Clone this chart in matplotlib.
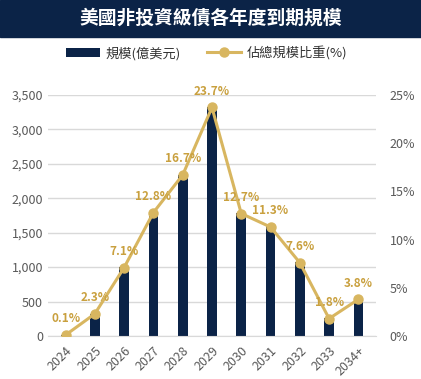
import matplotlib.pyplot as plt
from matplotlib.patches import Rectangle
from matplotlib.ticker import FuncFormatter

plt.rcParams['font.family'] = ['Noto Sans CJK TC', 'DejaVu Sans']

### data
years = ['2024', '2025', '2026', '2027', '2028', '2029', '2030', '2031', '2032', '2033', '2034+']
size = [10, 315, 1000, 1800, 2340, 3330, 1780, 1600, 1080, 255, 530]
share = [0.1, 2.3, 7.1, 12.8, 16.7, 23.7, 12.7, 11.3, 7.6, 1.8, 3.8]

navy = '#0B2347'
gold = '#D8B660'
label_gold = '#C9A03E'
grey = '#595959'

fig = plt.figure(figsize=(4.21, 3.79), dpi=100)

### title banner
fig.patches.append(Rectangle((0, 0.903), 1, 0.097, transform=fig.transFigure,
                             color=navy, zorder=0))
fig.text(0.5, 0.951, '美國非投資級債各年度到期規模', color='white', fontsize=13.5,
         fontweight='bold', ha='center', va='center')

ax = fig.add_axes([0.114, 0.1135, 0.779, 0.636])
x = range(len(years))
bars = ax.bar(x, size, width=0.33, color=navy, zorder=2)
ax.set_ylim(0, 3500)
ax.set_yticks(range(0, 3501, 500))
ax.yaxis.set_major_formatter(FuncFormatter(lambda v, p: f'{int(v):,}'))
ax.set_xlim(-0.6, len(years) - 0.4)
ax.set_xticks(list(x))
ax.set_xticklabels(years, rotation=45, ha='right', rotation_mode='anchor')
ax.grid(axis='y', color='#D9D9D9', linewidth=1, zorder=0)
for s in ['top', 'right', 'left']:
    ax.spines[s].set_visible(False)
ax.spines['bottom'].set_color('#D9D9D9')
ax.tick_params(length=0, colors=grey, labelsize=9)
ax.tick_params(axis='x', pad=6)

ax2 = ax.twinx()
line, = ax2.plot(list(x), share, color=gold, linewidth=2.2, marker='o',
                 markersize=6.5, zorder=3)
ax2.set_ylim(0, 25)
ax2.set_yticks(range(0, 26, 5))
ax2.yaxis.set_major_formatter(FuncFormatter(lambda v, p: f'{int(v)}%'))
for s in ax2.spines.values():
    s.set_visible(False)
ax2.tick_params(length=0, colors=grey, labelsize=9, pad=10)

for i, v in enumerate(share):
    ax2.annotate(f'{v}%', (i, v), xytext=(0, 7), textcoords='offset points',
                 ha='center', va='bottom', color=label_gold, fontsize=8.5,
                 fontweight='bold')

fig.legend([bars, line], ['規模(億美元)', '佔總規模比重(%)'], loc='center',
           bbox_to_anchor=(0.49, 0.86), ncol=2, frameon=False, fontsize=9.5,
           labelcolor='#333333', handlelength=2.6, columnspacing=2.0,
           handletextpad=0.4)

fig.savefig('out.png', dpi=100)
